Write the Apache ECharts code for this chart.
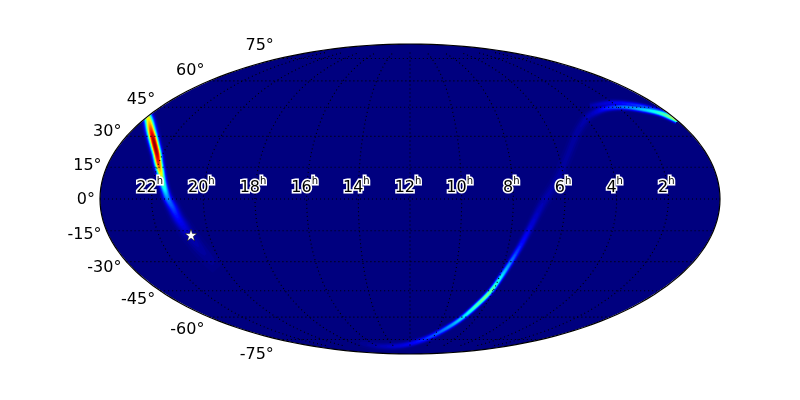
<!DOCTYPE html>
<html><head><meta charset="utf-8">
<style>html,body{margin:0;padding:0;background:#fff}#c{width:800px;height:400px}</style>
<script src="https://cdn.jsdelivr.net/npm/echarts@6/dist/echarts.min.js"></script>
</head><body><div id="c"></div>
<script>
// Ridge samples, in map units (centre of the ellipse = 0,0)
const westX = [-263,-261,-259,-257,-255,-253,-251.5,-249.5,-247.5,-245,-242,-237,-232,-226,-219,-207,-192];
const westY = [84,78,69,61,53,45,36,27,18,9,0,-9,-19,-28,-38,-53,-69];
const westPeak = [.6,.68,.85,.97,1,.97,.85,.68,.52,.38,.27,.2,.14,.1,.06,.035,.015];
const westSigma = [3,3.1,3.1,3,2.9,2.8,2.7,2.6,2.5,2.6,2.9,3.4,3.7,4,4.2,4.7,5.2];

const eastX = [267,250,230,213,197,186,177,167,157,147,133,123,112,102,91,80,67,52,37,20,3,-13,-33,-50];
const eastY = [79,86,90,92,91,87,81,66,42,19,-4,-23,-44,-61,-78,-93,-106,-119,-129,-138,-144,-147,-147,-144];
const eastPeak = [.58,.45,.32,.25,.17,.09,.055,.04,.035,.04,.055,.09,.15,.25,.38,.5,.47,.36,.28,.2,.13,.09,.05,.02];
const eastSigma = [1.9,1.8,1.8,1.9,2.2,2.6,3,3.2,3.4,3.4,3.2,2.6,2.2,1.9,1.7,1.6,1.6,1.6,1.7,1.8,1.9,2.1,2.2,2.4];

const arcX = [180,203,230,253];
const arcY = [93,96,93,86];
const arcPeak = [.05,.12,.2,.3];
const arcSigma = [2.2,2,1.8,1.7];

const latTicks = [75,60,45,30,15,0,-15,-30,-45,-60,-75];
const raHours = [22,20,18,16,14,12,10,8,6,4,2];
const star = [-219,-36];

const A = 310, B = 155;
const BG = '#00007f';
const FONT = '"DejaVu Sans"';
const STAR = 'path://M50 0L61.8 35.5H99L69 57.5L80.5 93L50 71L19.5 93L31 57.5L1 35.5H38.2Z';

function aux(lat){ // Mollweide auxiliary angle
  const phi = lat*Math.PI/180; let t = phi;
  if (Math.abs(lat) >= 90) return phi;
  for (let i=0;i<60;i++) t -= (2*t+Math.sin(2*t)-Math.PI*Math.sin(phi))/(2+2*Math.cos(2*t));
  return t;
}
function proj(lonDeg, lat){ const t = aux(lat); return [A*lonDeg/180*Math.cos(t), B*Math.sin(t)]; }
function jet(v){
  const c = x => Math.round(255*Math.max(0,Math.min(1,x)));
  return `rgb(${c(Math.min(4*v-1.5,-4*v+4.5))},${c(Math.min(4*v-.5,-4*v+3.5))},${c(Math.min(4*v+.5,-4*v+2.5))})`;
}
function ellipsePts(api, k){
  const p=[]; for(let i=0;i<360;i+=2){const a=i*Math.PI/180;p.push(api.coord([(A+k)*Math.cos(a),(B+k)*Math.sin(a)]));}
  return p;
}
const levels=[]; for(let l=0.006;l<1;l+=0.012) levels.push(l);
const bands=[[westX,westY,westPeak,westSigma],[arcX,arcY,arcPeak,arcSigma],[eastX,eastY,eastPeak,eastSigma]];

// drawing only: rounds the outline of a ridge between its read samples so it has no corners
function rounded(a,steps){
  const out=[];
  for(let i=0;i<a.length-1;i++){
    const p0=a[Math.max(0,i-1)],p1=a[i],p2=a[i+1],p3=a[Math.min(a.length-1,i+2)];
    for(let s=0;s<steps;s++){const t=s/steps;
      out.push(.5*(2*p1+(p2-p0)*t+(2*p0-5*p1+4*p2-p3)*t*t+(3*p1-p0-3*p2+p3)*t*t*t));}
  }
  out.push(a[a.length-1]); return out;
}
const drawn=bands.map(b=>b.map(a=>rounded(a,6)));

function bandPolys(api,band,L){
  const [X,Y,P,S]=band, pts=X.map((x,i)=>api.coord([x,Y[i]])), out=[]; let left=[],right=[];
  const flush=()=>{ if(left.length>1) out.push(left.concat(right.reverse())); left=[];right=[]; };
  for(let i=0;i<pts.length;i++){
    if(P[i]<=L){flush();continue;}
    const a=pts[Math.max(0,i-1)],b=pts[Math.min(pts.length-1,i+1)];
    const dx=b[0]-a[0],dy=b[1]-a[1],n=Math.hypot(dx,dy)||1;
    const h=S[i]*Math.sqrt(2*Math.log(P[i]/L));
    left.push([pts[i][0]-dy/n*h,pts[i][1]+dx/n*h]);
    right.push([pts[i][0]+dy/n*h,pts[i][1]-dx/n*h]);
  }
  flush(); return out;
}
const meridians=[-150,-120,-90,-60,-30,0,30,60,90,120,150];
const dotCurve={stroke:'#000',lineWidth:1.1,lineDash:[1,3],fill:null};

const chart=echarts.init(document.getElementById('c'),null,{renderer:'canvas'});
chart.setOption({
  animation:false,
  grid:{left:100,top:44,width:620,height:310},
  xAxis:{type:'value',min:-A,max:A,show:false},
  yAxis:{type:'value',min:-B,max:B,show:false},
  series:[
    {type:'custom',name:'sky',z:1,data:[[0,0]],silent:true,
     renderItem:(p,api)=>({type:'polygon',shape:{points:ellipsePts(api,0)},style:{fill:BG}})},
    {type:'custom',name:'probability',z:2,silent:true,data:levels.map(l=>[l]),
     renderItem:(p,api)=>{
       const L=api.value(0),children=[];
       drawn.forEach(b=>bandPolys(api,b,L).forEach(poly=>children.push({type:'polygon',shape:{points:poly},style:{fill:jet(L)}})));
       return {type:'group',children};
     }},
    {type:'custom',name:'mask',z:3,data:[[0,0]],silent:true,
     renderItem:(p,api)=>({type:'polygon',shape:{points:ellipsePts(api,10)},style:{fill:null,stroke:'#fff',lineWidth:20}})},
    {type:'custom',name:'graticule',z:4,data:[[0,0]],silent:true,
     renderItem:(p,api)=>{
       const ch=[];
       latTicks.forEach(lat=>{const pts=[];for(let lon=-180;lon<=180;lon+=180)pts.push(api.coord(proj(lon,lat)));
         ch.push({type:'polyline',shape:{points:pts},style:dotCurve});});
       meridians.forEach(lon=>{const pts=[];for(let l=-80;l<=80;l+=2)pts.push(api.coord(proj(lon,l)));
         ch.push({type:'polyline',shape:{points:pts},style:dotCurve});});
       return {type:'group',children:ch};
     }},
    {type:'custom',name:'outline',z:5,data:[[0,0]],silent:true,
     renderItem:(p,api)=>({type:'polygon',shape:{points:ellipsePts(api,0)},style:{fill:null,stroke:'#000',lineWidth:1.2}})},
    {type:'scatter',name:'star',z:6,silent:true,clip:false,data:[star],symbol:STAR,symbolSize:12,itemStyle:{color:'#fff',opacity:1,borderColor:'#000',borderWidth:.5}},
    {type:'scatter',name:'dec',z:7,silent:true,clip:false,symbolSize:0,itemStyle:{opacity:1},
     data:latTicks.map(lat=>{const q=proj(-180,lat);return {value:[q[0]-5,q[1]+lat*14/75-1],name:lat+'°'};}),
     label:{show:true,position:'left',distance:0,formatter:d=>d.name,color:'#000',opacity:1,fontFamily:FONT,fontSize:16}},
    {type:'scatter',name:'ra',z:8,silent:true,clip:false,symbolSize:0,itemStyle:{opacity:1},labelLayout:{hideOverlap:false},
     data:raHours.map(h=>({value:[(12-h)*A/12-2,13],name:String(h)})),
     label:{show:true,position:'inside',opacity:1,formatter:d=>`{n|${d.name}}{h|h}`,
       rich:{n:{color:'#000',fontFamily:FONT,fontSize:16,textBorderColor:'#fff',textBorderWidth:3,lineHeight:20,verticalAlign:'bottom'},
             h:{color:'#000',fontFamily:FONT,fontSize:10,textBorderColor:'#fff',textBorderWidth:3,lineHeight:20,verticalAlign:'top'}}}}
  ]
});
</script></body></html>
